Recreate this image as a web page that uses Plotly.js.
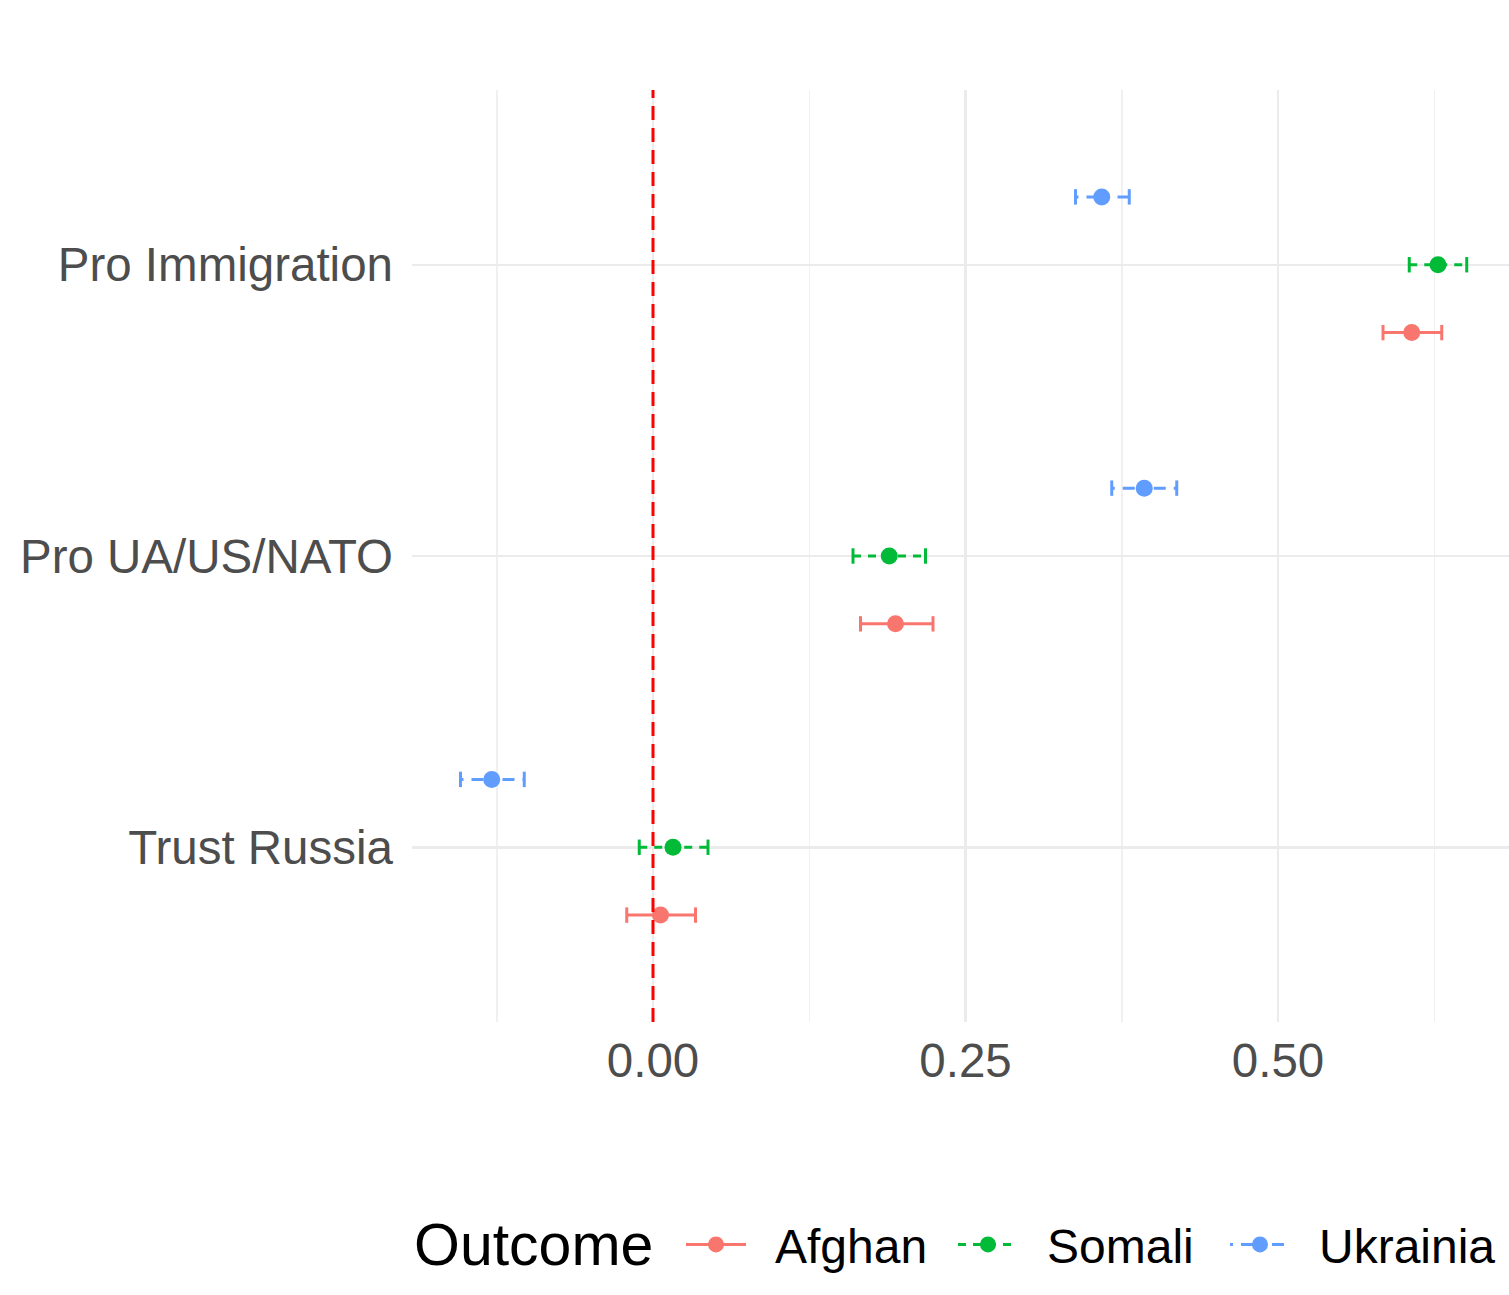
<!DOCTYPE html>
<html>
<head>
<meta charset="utf-8">
<script src="https://cdn.plot.ly/plotly-3.0.1.min.js"></script>
<style>
  html, body { margin: 0; padding: 0; background: #ffffff; }
  #chart { width: 1509px; height: 1295px; }
</style>
</head>
<body>
<div id="chart"></div>
<script>
// Outcomes, top to bottom, and their positions on the vertical scale
const outcomes = ['Pro Immigration', 'Pro UA/US/NATO', 'Trust Russia'];
const outcomePos = [3, 2, 1];

// Treatment groups (legend order)
const groups = ['Afghan', 'Somali', 'Ukrainian'];
const legendTitle = 'Outcome';

// Point estimates and 95% interval bounds, in the order of `outcomes`
const afghanEst = [0.607, 0.194, 0.006];
const afghanLo  = [0.584, 0.166, -0.021];
const afghanHi  = [0.631, 0.224, 0.034];

const somaliEst = [0.628, 0.189, 0.016];
const somaliLo  = [0.605, 0.160, -0.011];
const somaliHi  = [0.651, 0.218, 0.044];

const ukrainianEst = [0.359, 0.393, -0.129];
const ukrainianLo  = [0.338, 0.367, -0.154];
const ukrainianHi  = [0.381, 0.419, -0.103];

// Reference line position
const zeroLine = 0;

// x-axis ticks
const xTicks = [0, 0.25, 0.5];
const xTickText = ['0.00', '0.25', '0.50'];

// Styling
const colors = { Afghan: '#F8766D', Somali: '#00BA38', Ukrainian: '#619CFF' };
const dashes = { Afghan: 'solid', Somali: '8px,7px', Ukrainian: '3px,8px,12px,8px' };
const dodge = { Afghan: -0.233, Somali: 0, Ukrainian: 0.233 };

const series = {
  Afghan: { est: afghanEst, lo: afghanLo, hi: afghanHi },
  Somali: { est: somaliEst, lo: somaliLo, hi: somaliHi },
  Ukrainian: { est: ukrainianEst, lo: ukrainianLo, hi: ukrainianHi }
};

const traces = [];
groups.forEach(g => {
  const s = series[g];
  const ys = outcomePos.map(p => p + dodge[g]);

  // interval segments with end caps
  const cx = [], cy = [];
  s.lo.forEach((lo, i) => {
    cx.push(lo, s.hi[i], null);
    cy.push(ys[i], ys[i], null);
  });
  traces.push({
    type: 'scatter', mode: 'lines+markers',
    x: cx, y: cy,
    line: { color: colors[g], width: 3, dash: dashes[g] },
    marker: { symbol: 'line-ns', size: 11, line: { color: colors[g], width: 3 } },
    legendgroup: g, showlegend: false, hoverinfo: 'skip'
  });

  // point estimates (separated by gaps so no connecting line is drawn)
  const px = [], py = [];
  s.est.forEach((e, i) => { px.push(e, null); py.push(ys[i], null); });
  traces.push({
    type: 'scatter', mode: 'lines+markers',
    x: px, y: py,
    name: '\u2002' + g,   // en space keeps the label clear of the key symbol
    connectgaps: false,
    line: { color: colors[g], width: 3, dash: dashes[g] },
    marker: { symbol: 'circle', size: 17, color: colors[g] },
    legendgroup: g
  });
});

const layout = {
  width: 1509, height: 1295,
  paper_bgcolor: '#ffffff', plot_bgcolor: '#ffffff',
  font: { family: 'Liberation Sans, Arial, sans-serif', size: 47.5, color: '#4d4d4d' },
  margin: { l: 412, r: 0, t: 90, b: 273, autoexpand: false },
  showlegend: true,
  xaxis: {
    range: [-0.1928, 0.6848],
    tickvals: xTicks, ticktext: xTickText,
    showgrid: true, gridcolor: '#ebebeb', gridwidth: 2.5,
    zeroline: false, showline: false, ticks: '',
    ticklabelstandoff: 6,
    tickfont: { size: 47.5, color: '#4d4d4d' },
    minor: { tick0: 0.125, dtick: 0.25, showgrid: true, gridcolor: '#f0f0f0', gridwidth: 1.5, ticks: '' }
  },
  yaxis: {
    range: [0.4, 3.6],
    tickvals: outcomePos, ticktext: outcomes,
    showgrid: true, gridcolor: '#ebebeb', gridwidth: 2.5,
    zeroline: false, showline: false, ticks: '',
    ticklabelstandoff: 18,
    tickfont: { size: 47.5, color: '#4d4d4d' }
  },
  shapes: [{
    type: 'line', xref: 'x', yref: 'paper',
    x0: zeroLine, x1: zeroLine, y0: 0, y1: 1,
    line: { color: '#ff0000', width: 3, dash: '14px,8px' }
  }],
  annotations: [{
    text: legendTitle, xref: 'paper', yref: 'paper',
    x: 0, xanchor: 'left',
    y: -0.239, yanchor: 'middle',
    showarrow: false,
    font: { size: 59, color: '#000000' }
  }],
  legend: {
    orientation: 'h',
    x: (681 - 412) / 1097, xanchor: 'left',
    y: -0.239, yanchor: 'middle',
    entrywidth: 197, entrywidthmode: 'pixels',
    itemwidth: 60,
    font: { size: 48, color: '#000000' },
    bgcolor: 'rgba(0,0,0,0)'
  },
  hovermode: false
};

Plotly.newPlot('chart', traces, layout, { staticPlot: true, displayModeBar: false });
</script>
</body>
</html>
